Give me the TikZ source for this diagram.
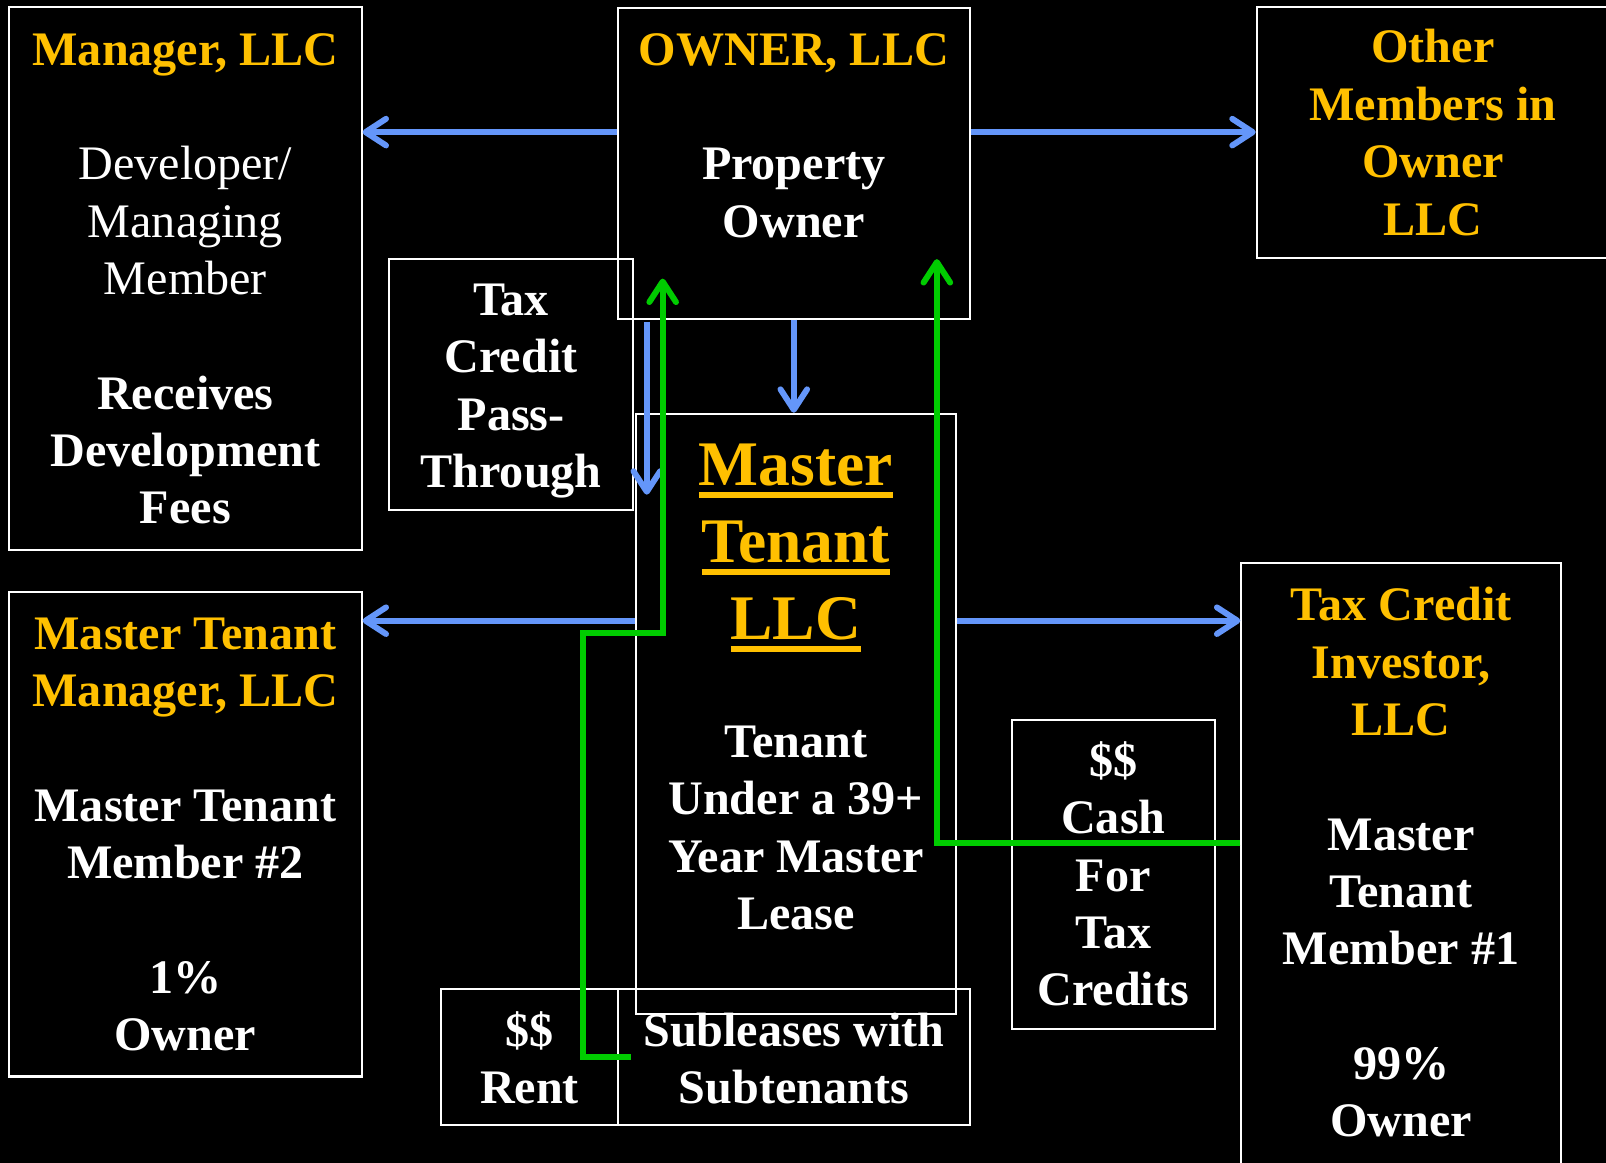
\documentclass[tikz,border=0pt]{standalone}
\usepackage{fontspec}
\setmainfont{Liberation Serif}
\usetikzlibrary{arrows.meta,fit}
\definecolor{gold}{RGB}{255,192,0}
\definecolor{arrblue}{RGB}{100,150,250}
\definecolor{arrgreen}{RGB}{0,204,0}
\newcommand\mystrut{\rule[-6pt]{0pt}{27.5pt}}
\newcommand\mybigstrut{\rule[-7.5pt]{0pt}{35.5pt}}
\newcommand\goldul[1]{\setbox0\hbox{#1}\rlap{\color{gold}\rule[-6.3pt]{\wd0}{2.9pt}}\box0}
\begin{document}
\begin{tikzpicture}[x=0.5pt,y=-0.5pt,
  box/.style={draw=white,line width=1pt,inner sep=0pt},
  txt/.style={text=white,align=center,inner sep=0pt,font=\fontsize{23.5}{28}\selectfont\bfseries},
  bigtxt/.style={text=gold,align=center,inner sep=0pt,font=\fontsize{31}{37.5}\selectfont\bfseries},
  barrow/.style={draw=arrblue,line width=2.9pt,-{Straight Barb[length=10pt,width=13pt,round]}},
  garrow/.style={draw=arrgreen,line width=2.9pt,-{Straight Barb[length=10pt,width=13pt,round]}}]
\fill[black] (0,0) rectangle (1568,1135);
\useasboundingbox (0,0) rectangle (1568,1135);
% boxes
\node[box,fit={(9,7) (353,537)}] (mgr) {};
\node[box,fit={(603,8) (947,311)}] (owner) {};
\node[box,fit={(1227,7) (1600,252)}] (other) {};
\node[box,fit={(380,253) (618,498)}] (pass) {};
\node[box,fit={(621,404) (933,990)}] (mt) {};
\node[box,fit={(9,578) (353,1051)}] (mtm) {};
\node[box,fit={(1212,550) (1524,1160)}] (tci) {};
\node[box,fit={(988,703) (1186,1005)}] (cash) {};
\node[box,fit={(431,966) (603,1098)}] (rent) {};
\node[box,fit={(603,966) (947,1098)}] (sub) {};
% helper coordinates
\coordinate (yA) at (0,129);
\coordinate (yB) at (0,606);
\coordinate (pt1) at (631.5,314);
\coordinate (pt2) at (631.5,483);
\coordinate (g1a) at (616,1032);
\coordinate (g1b) at (569,1032);
\coordinate (g1c) at (569,618);
\coordinate (g1d) at (647,618);
\coordinate (g1e) at (647,272);
\coordinate (g2b) at (914.7,823);
\coordinate (g2c) at (914.7,253);
% blue arrows
\draw[barrow] (owner.west |- yA) -- (mgr.east |- yA);
\draw[barrow] (owner.east |- yA) -- (other.west |- yA);
\draw[barrow] (owner.south) -- (owner.south |- mt.north);
\draw[barrow] (pt1) -- (pt2);
\draw[barrow] (mt.west |- yB) -- (mtm.east |- yB);
\draw[barrow] (mt.east |- yB) -- (tci.west |- yB);
% green arrows
\draw[garrow] (g1a) -- (g1b) -- (g1c) -- (g1d) -- (g1e);
\draw[garrow] (tci.west |- g2b) -- (g2b) -- (g2c);
% texts
\node[txt] (tmgr) at (181,272) {\mystrut\textcolor{gold}{Manager, LLC}\\ \mbox{}\\ {\mdseries Developer/}\\ {\mdseries Managing}\\ {\mdseries Member}\\ \mbox{}\\ Receives\\ Development\\ Fees\mystrut};
\node[txt] (towner) at (775,132) {\mystrut\textcolor{gold}{OWNER, LLC}\\ \mbox{}\\ Property\\ Owner\mystrut};
\node[txt,text=gold] (tother) at (1399,130) {\mystrut Other\\ Members in\\ Owner\\ LLC\mystrut};
\node[txt] (tpass) at (499,376.5) {\mystrut Tax\\ Credit\\ Pass-\\ Through\mystrut};
\node[bigtxt] (tmtbig) at (777,528.5) {\mybigstrut\goldul{Master}\\ \goldul{Tenant}\\ \goldul{LLC}\mybigstrut};
\node[txt] (tmt) at (777,808) {\mystrut Tenant\\ Under a 39+\\ Year Master\\ Lease\mystrut};
\node[txt] (tmtm) at (181,814.5) {\mystrut\textcolor{gold}{Master Tenant}\\ \textcolor{gold}{Manager, LLC}\\ \mbox{}\\ Master Tenant\\ Member \#2\\ \mbox{}\\ 1\%\\ Owner\mystrut};
\node[txt] (ttci) at (1368,842.5) {\mystrut\textcolor{gold}{Tax Credit}\\ \textcolor{gold}{Investor,}\\ \textcolor{gold}{LLC}\\ \mbox{}\\ Master\\ Tenant\\ Member \#1\\ \mbox{}\\ 99\%\\ Owner\mystrut};
\node[txt] (tcash) at (1087,854.5) {\mystrut\$\$\\ Cash\\ For\\ Tax\\ Credits\mystrut};
\node[txt] (trent) at (517,1034) {\mystrut\$\$\\ Rent\mystrut};
\node[txt] (tsub) at (775,1034) {\mystrut Subleases with\\ Subtenants\mystrut};
\end{tikzpicture}
\end{document}
